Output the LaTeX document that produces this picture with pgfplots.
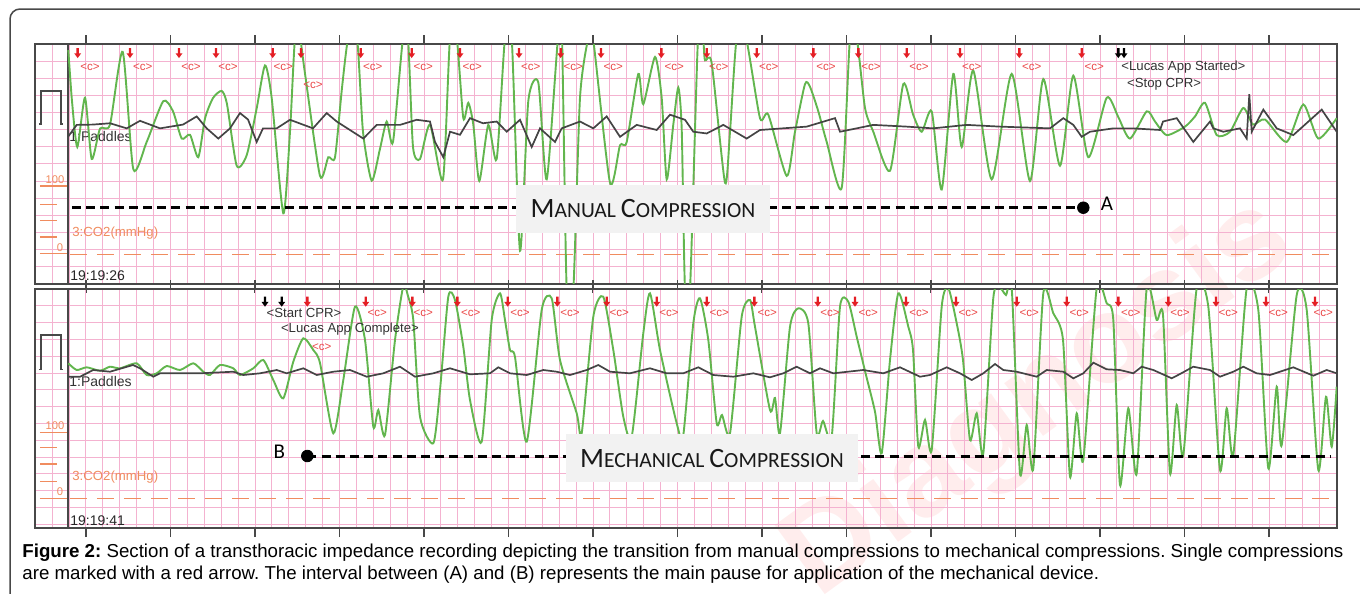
\documentclass[border=0pt]{standalone}
\usepackage{pgfplots}
\pgfplotsset{compat=1.18}
\usepackage{fontspec}
\setmainfont{Liberation Sans}
\newfontfamily\calibri{Carlito}
\usetikzlibrary{arrows.meta}
\frenchspacing

\definecolor{gridpink}{RGB}{244,178,208}
\definecolor{siggreen}{RGB}{98,182,78}
\definecolor{sigblack}{RGB}{68,68,68}
\definecolor{arrred}{RGB}{228,30,36}
\definecolor{lblred}{RGB}{234,72,72}
\definecolor{co2orange}{RGB}{240,140,95}
\definecolor{framegray}{RGB}{72,72,72}
\definecolor{boxgray}{RGB}{242,242,242}

\pgfdeclareplotmark{darrow}{%
  \pgfpathmoveto{\pgfqpoint{-0.6pt}{0pt}}%
  \pgfpathlineto{\pgfqpoint{0.6pt}{0pt}}%
  \pgfpathlineto{\pgfqpoint{0.6pt}{-2.6pt}}%
  \pgfpathlineto{\pgfqpoint{1.75pt}{-2.6pt}}%
  \pgfpathlineto{\pgfqpoint{0pt}{-5pt}}%
  \pgfpathlineto{\pgfqpoint{-1.75pt}{-2.6pt}}%
  \pgfpathlineto{\pgfqpoint{-0.6pt}{-2.6pt}}%
  \pgfpathclose
  \pgfusepathqfill}

\pgfplotsset{ecg/.style={
  scale only axis, width=651pt,
  xmin=35, xmax=1337, y dir=reverse,
  axis line style={draw=framegray, line width=0.8pt},
  xtick={86,170.5,...,1270}, xticklabels={},
  minor xtick={35.3,52.2,...,1337},
  yticklabels={},
  tick align=outside, major tick length=4.5pt, minor tick length=0pt,
  xtick style={draw=framegray, line width=0.7pt},
  ytick style={draw=none},
  minor tick style={draw=none},
  grid=both,
  major grid style={draw=gridpink, line width=0.5pt},
  minor grid style={draw=gridpink, line width=0.5pt},
  clip mode=individual,
}}
\tikzset{
  lbl/.style={text=lblred, font=\fontsize{5.8}{6}\selectfont, inner sep=0pt},
  evt/.style={text=black!80, font=\fontsize{6.6}{7}\selectfont, inner sep=0pt},
  chan/.style={font=\fontsize{7}{8}\selectfont, inner sep=0pt},
}

\begin{document}
\begin{tikzpicture}
\useasboundingbox (0,0) rectangle (680pt,-297pt);
\begin{scope}
\clip (0,0) rectangle (680pt,-297pt);
\draw[framegray, line width=0.75pt, rounded corners=5pt] (5pt,-4.5pt) rectangle (700pt,-320pt);
% watermark (faint)
\node[rotate=36, opacity=0.07, text=red, font=\bfseries\fontsize{62}{62}\selectfont] at (520pt,-200pt) {Diagnosis};
\end{scope}

%================ TOP PANEL =================
\begin{axis}[ecg, at={(17.5pt,-22pt)}, anchor=north west, height=117.5pt,
  ymin=44, ymax=279, ytick={44,60.8,...,279}]
% left strip
\draw[framegray, line width=0.8pt] (axis cs:68,44) -- (axis cs:68,279);
\draw[framegray, line width=0.7pt] (axis cs:39,122.5) -- (axis cs:41,122.5) -- (axis cs:41,90) -- (axis cs:61,90) -- (axis cs:61,122.5) -- (axis cs:63,122.5);
\draw[co2orange, line width=0.6pt] (axis cs:40,183.3) -- (axis cs:66.7,183.3);
\node[co2orange, font=\fontsize{5.6}{6}\selectfont, inner sep=0pt] at (axis cs:55,177) {100};
\draw[co2orange, line width=0.6pt] (axis cs:40,201.7) -- (axis cs:57,201.7);
\draw[co2orange, line width=0.6pt] (axis cs:40,216.7) -- (axis cs:57,216.7);
\draw[co2orange, line width=0.6pt] (axis cs:40,233.3) -- (axis cs:57,233.3);
\node[co2orange, font=\fontsize{5.6}{6}\selectfont, inner sep=0pt] at (axis cs:60,244) {0};
\draw[co2orange, line width=0.6pt] (axis cs:40,249.5) -- (axis cs:66.7,249.5);
% CO2 baseline
\addplot[co2orange, line width=0.6pt, dash pattern=on 8.5pt off 5pt] coordinates {(70,250.3) (1332,250.3)};
\node[chan, anchor=west, text=black!80] at (axis cs:69,135) {1:Paddles};
\node[chan, anchor=west, text=co2orange, font=\fontsize{6.6}{7}\selectfont] at (axis cs:72,229) {3:CO2(mmHg)};
\node[chan, anchor=west, text=black!85] at (axis cs:70,271.5) {19:19:26};
% green impedance signal
\addplot[siggreen, line width=0.95pt, smooth, tension=0.4] coordinates {
(68.3,50) (72,100) (77.3,145) (85,96.7) (91.7,156.7) (100,127) (110,123)
(122.7,51.7) (133.3,166.7) (146.7,140) (163.3,100) (173,110) (181.7,136.7)
(190,133) (198.3,155) (205,117) (213,97) (221.7,90) (227,103) (236.7,163.3)
(246.7,153) (256.7,107) (265,65) (271.7,97) (283.3,210) (290,130) (295,38)
(300,38) (305,73) (320,173.3) (328.3,155) (335,155) (342,87) (348.3,38)
(357,38) (363,130) (371.7,178) (380,146.7) (386.7,120) (393,140) (403,38)
(408,38) (413,145) (420,156.7) (430,123) (443,176.7) (450,38) (456.7,38)
(463.3,116.7) (468.3,101.7) (473.3,123) (479.3,178.3) (488.3,123.3)
(496.7,156.7) (505,38) (511.7,38) (520,246.7) (528.3,100) (538.3,81.7)
(546.7,176.7) (558,38) (562,38) (566.7,285) (573.3,285) (580,96.7)
(588.3,38) (593,38) (610,180) (620,143.3) (626.7,140) (638.3,73.3)
(643.3,103) (655,56.7) (661.7,97) (666.7,176.7) (673.3,123) (678.3,86.7)
(681.7,127) (685,285) (690,285) (698,38) (703,38) (705,60) (711.7,63)
(725,180) (730,130) (736.7,38) (746,38) (760,116.7) (768.3,113.3)
(786.7,173.3) (795,130) (805,83.3) (810,86) (818.3,110) (826.7,140)
(841.7,185) (850,38) (856.7,38) (865,106.7) (873.3,130) (890,168.3)
(903.3,83.3) (913,113) (921.7,130) (931.7,110) (941.7,186.7) (953.3,73.3)
(961.7,145) (973.3,70) (991.7,176.7) (1011.7,73.3) (1030,178.3)
(1043.3,78.3) (1060,163.3) (1073.3,75) (1088.3,155) (1106.7,96.7)
(1118,115) (1130,136.7) (1146.7,110) (1155,120) (1166.7,133.3) (1185,125)
(1195,115) (1205,101.7) (1216.7,133.3) (1230,130) (1243.3,106.7)
(1253,123) (1265,118) (1286.7,140) (1303.3,103.3) (1318.3,136.7) (1336.7,116.7)};
% black paddles signal
\addplot[sigblack, line width=0.85pt] coordinates {
(68,135) (76.7,123.3) (93,123) (110,121.7) (126.7,126.7) (140,119.3)
(160,126.7) (183,123) (196.7,115) (206.7,126.7) (218.3,136.7) (230,126.7)
(240,111.7) (248,118) (256.7,140) (263,126.7) (276.7,126.7) (290,118.3)
(313,126.7) (326.7,111.7) (336.7,120) (363.3,136.7) (376.7,123.3)
(400,123.3) (416.7,118.3) (430,120) (435,140) (443.3,155) (450,130)
(460,133) (470,116.7) (483,121.7) (496.7,120) (506.7,130) (520,118.3)
(531.7,145) (540,126.7) (555,140) (561.7,126.7) (580,120) (593.3,126.7)
(606.7,115) (620,135) (636.7,123.3) (656.7,128.3) (670,113.3) (685,118.3)
(693.3,130) (706.7,131.7) (723.3,123.3) (746.7,136.7) (760,128.3)
(806.7,125) (835,116.7) (840,130) (856.7,126.7) (873.3,123.3)
(906.7,125) (933,126.7) (966.7,123.3) (1000,125) (1050,126.7)
(1063.3,116.7) (1073.3,123.3) (1081.7,135) (1090,130) (1113.3,126.7)
(1133.3,126.7) (1160,128.3) (1163,120) (1176.7,116.7) (1193.3,140)
(1210,120) (1213.3,126.7) (1223.3,130) (1240,126.7) (1246.7,136.7)
(1249.3,93.3) (1251.7,130) (1263.3,108.3) (1276.7,126.7) (1293.3,133.3)
(1321.7,108.3) (1336.7,130)};
% compression markers
\addplot[only marks, mark=darrow, color=arrred] coordinates {
(77.7,48) (130,48) (179,48) (216,48) (272.7,48) (301,48) (360.7,48)
(411.7,48) (460,48) (519,48) (560.7,48) (601,48) (661.3,48) (706.7,48)
(756.7,48) (813.3,48) (858.3,48) (906.7,48) (960,48) (1019.3,48) (1081.7,48)};
\addplot[only marks, mark=darrow, color=black] coordinates {(1118.3,48) (1124,48)};
\pgfplotsinvokeforeach{90,142.7,191,228,283.3,372.7,423.3,472.3,530.7,573.3,613.3,674.3,718.7,768.7,826,871,919,971.7,1031.7,1094.3}{
  \node[lbl] at (axis cs:#1,66.7) {<c>};}
\node[lbl] at (axis cs:313,84) {<c>};
\node[evt, anchor=west] at (axis cs:1121,66.7) {<Lucas App Started>};
\node[evt, anchor=west] at (axis cs:1126.7,83.3) {<Stop CPR>};
% pause marker A
\addplot[black, line width=1.5pt, dash pattern=on 4.5pt off 2.6pt] coordinates {(72,204.5) (1083,204.5)};
\addplot[only marks, mark=*, mark size=2.9pt, color=black] coordinates {(1083.3,204.5)};
\node[inner sep=0pt, font=\calibri\fontsize{10.5}{11}\selectfont] at (axis cs:1107,200.5) {A};
\node[fill=boxgray, minimum width=127pt, minimum height=23.8pt, inner sep=0pt,
  font=\calibri, text=black!90] at (axis cs:643,205.5)
  {\fontsize{14}{16}\selectfont M\fontsize{10.8}{12}\selectfont ANUAL \fontsize{14}{16}\selectfont C\fontsize{10.8}{12}\selectfont OMPRESSION};
\end{axis}

%================ BOTTOM PANEL =================
\begin{axis}[ecg, at={(17.5pt,-144.5pt)}, anchor=north west, height=119.5pt,
  ymin=289, ymax=528, ytick={289,305.8,...,528}]
\draw[framegray, line width=0.8pt] (axis cs:68,289) -- (axis cs:68,528);
\draw[framegray, line width=0.7pt] (axis cs:39,369.3) -- (axis cs:41,369.3) -- (axis cs:41,335) -- (axis cs:61,335) -- (axis cs:61,369.3) -- (axis cs:63,369.3);
\draw[co2orange, line width=0.6pt] (axis cs:40,432.5) -- (axis cs:66.7,432.5);
\node[co2orange, font=\fontsize{5.6}{6}\selectfont, inner sep=0pt] at (axis cs:55,426) {100};
\draw[co2orange, line width=0.6pt] (axis cs:40,447.3) -- (axis cs:57,447.3);
\draw[co2orange, line width=0.6pt] (axis cs:40,464) -- (axis cs:57,464);
\draw[co2orange, line width=0.6pt] (axis cs:40,481.7) -- (axis cs:57,481.7);
\node[co2orange, font=\fontsize{5.6}{6}\selectfont, inner sep=0pt] at (axis cs:60,492) {0};
\draw[co2orange, line width=0.6pt] (axis cs:40,498.3) -- (axis cs:66.7,498.3);
\addplot[co2orange, line width=0.6pt, dash pattern=on 8.5pt off 5pt] coordinates {(70,498.3) (1332,498.3)};
\node[chan, anchor=west, text=black!80] at (axis cs:69,381.7) {1:Paddles};
\node[chan, anchor=west, text=co2orange, font=\fontsize{6.6}{7}\selectfont] at (axis cs:72,477) {3:CO2(mmHg)};
\node[chan, anchor=west, text=black!85] at (axis cs:70,520.7) {19:19:41};
% green impedance signal
\addplot[siggreen, line width=0.95pt, smooth, tension=0.4] coordinates {
(68.3,363.3) (76.7,370) (86.7,367.3) (100,370.7) (110,366.7) (120,368.3)
(136.7,363.3) (146.7,375) (156.7,373.3) (166.7,366) (180,370) (193.3,363.3)
(203.3,371.7) (210,375) (220,365) (233.3,368.3) (240,375) (253.3,368.3)
(263.3,360) (273.3,380) (283.3,398.3) (293.3,361.7) (303.3,338.3)
(313.3,350) (320,363) (333.3,433.3) (343.3,380) (355,306.7) (365,340)
(373.3,426.7) (378.3,410) (385,435) (395,340) (403.3,286) (408,296)
(413.3,320) (420,416.7) (433.3,443.3) (440,390) (448.3,296.7) (455,300)
(463.3,346.7) (470,400) (481.7,441.7) (491.7,320) (500,293.3) (505,320)
(510,350) (515,357) (526.7,441.7) (541.7,310) (551.7,298.3) (560,360)
(576.7,413.3) (581.7,433.3) (593.3,316.7) (603.3,296.7) (613.3,350)
(623.3,416.7) (631.7,436.7) (643.3,333.3) (650,293.3) (660,350)
(676.7,423.3) (683.3,435) (693.3,323.3) (700,298.3) (708.3,340)
(716.7,423.3) (722,415) (730,433.3) (741.7,316.7) (750,300) (755,326.7)
(770,410) (775,398) (780,433.3) (790,326.7) (798.3,308.3) (808.3,323.3)
(816.7,433.3) (823,421) (831.7,436.7) (840,306.7) (848.3,301.7)
(856.7,336.7) (866,375) (875,411.7) (881.7,453.3) (890,360) (898.3,293.3)
(908.3,326.7) (913,350) (918.3,446.7) (925,420) (931.7,450) (941.7,306.7)
(948.3,288) (956.7,323.3) (963,360) (970,440) (976.7,413.3) (983.3,453.3)
(993.3,298) (1000,288) (1006,295) (1011.7,288) (1020,473.3) (1026.7,425)
(1033.3,468.3) (1043.3,293.3) (1053.3,313.3) (1063,340) (1070,476.7)
(1076.7,413.3) (1083.3,460) (1096.7,288) (1106.7,303.3) (1113.3,320)
(1120,485) (1128.3,408.3) (1136.7,473.3) (1146.7,288) (1156.7,320)
(1163,315) (1170,473.3) (1176.7,405) (1183.3,455) (1196.7,288)
(1208.3,306.7) (1220,470) (1226.7,408.3) (1233.3,455) (1246.7,288)
(1258.3,310) (1268.3,468.3) (1276.7,386.7) (1281.7,445) (1296.7,295)
(1306.7,310) (1318.3,470) (1326,396.7) (1331.7,446.7) (1336.7,386.7)};
% black paddles signal
\addplot[sigblack, line width=0.85pt] coordinates {
(68,376.7) (80,376.7) (93.3,370) (110,371.7) (133,365) (140,368.3)
(153.3,376.7) (160,373.3) (200,373.3) (233.3,371.7) (243.3,375)
(260,373.3) (276.7,370) (286.7,373.3) (303.3,368.3) (316.7,375)
(333.3,371.7) (350,370) (366.7,376.7) (383.3,373.3) (400,366.7)
(415,376.7) (433.3,373.3) (450,368.3) (470,374.3) (490,373.3)
(498.3,367.3) (510,373.3) (526.7,375) (543.3,370) (556.7,371.7)
(570,375) (586.7,370) (598.3,365) (610,371.7) (630,373.3) (650,368.3)
(666.7,373.3) (683.3,373.3) (698.3,367.3) (713.3,375) (733.3,376.7)
(753.3,373.3) (770,377.3) (783.3,373.3) (796.7,366.7) (810,373.3)
(820,368.3) (833.3,373.3) (863.3,370) (883.3,373.3) (900,367.3)
(920,376.7) (930,375) (946.7,367.3) (960,373.3) (971.7,380) (983.3,373.3)
(995,364) (1003.3,370) (1016.7,371.7) (1036.7,376.7) (1046.7,370)
(1063.3,371.7) (1073.3,378.3) (1083.3,373.3) (1093.3,362.7)
(1106.7,369.3) (1120,370) (1133.3,373.3) (1141.7,366.7) (1153.3,370)
(1171.7,378.3) (1180,374) (1193.3,366.7) (1210,370) (1220,376.7)
(1233.3,371.7) (1243.3,366.7) (1256.7,373.3) (1270,375) (1293.3,367.3)
(1313.3,375.7) (1326.7,370) (1336.7,373.3)};
% compression markers
\addplot[only marks, mark=darrow, color=arrred] coordinates {
(307.3,296.7) (365.7,296.7) (412.3,296.7) (457.3,296.7) (507.7,296.7)
(557.3,296.7) (606.7,296.7) (656.7,296.7) (706.7,296.7) (754.3,296.7)
(817.7,296.7) (855,296.7) (906,296.7) (956,296.7) (1016.7,296.7)
(1066.7,296.7) (1118.3,296.7) (1168.3,296.7) (1216,296.7) (1266,296.7) (1315,296.7)};
\addplot[only marks, mark=darrow, color=black] coordinates {(265,296.7) (281.7,296.7)};
\pgfplotsinvokeforeach{377.3,423.3,470.7,520,570,619.3,669,719.3,767.3,830,868.3,919,968.3,1029.3,1079.3,1130.7,1180,1228.3,1278.3,1323.3}{
  \node[lbl] at (axis cs:#1,313.3) {<c>};}
\node[lbl] at (axis cs:321.7,346.7) {<c>};
\node[evt] at (axis cs:304,313.3) {<Start CPR>};
\node[evt] at (axis cs:350,329.3) {<Lucas App Complete>};
% pause marker B
\addplot[black, line width=1.5pt, dash pattern=on 4.5pt off 2.6pt] coordinates {(307.3,456) (1330,456)};
\addplot[only marks, mark=*, mark size=2.9pt, color=black] coordinates {(307.3,456)};
\node[inner sep=0pt, font=\calibri\fontsize{10.5}{11}\selectfont] at (axis cs:279.3,451.5) {B};
\node[fill=boxgray, minimum width=146pt, minimum height=23.8pt, inner sep=0pt,
  font=\calibri, text=black!90] at (axis cs:712,458)
  {\fontsize{14}{16}\selectfont M\fontsize{10.8}{12}\selectfont ECHANICAL \fontsize{14}{16}\selectfont C\fontsize{10.8}{12}\selectfont OMPRESSION};
\end{axis}

% caption
\node[anchor=base west, inner sep=0pt, font=\fontsize{9.35}{11}\selectfont] at (11pt,-278.5pt)
  {\textbf{Figure 2:} Section of a transthoracic impedance recording depicting the transition from manual compressions to mechanical compressions. Single compressions};
\node[anchor=base west, inner sep=0pt, font=\fontsize{9.35}{11}\selectfont] at (11pt,-289.5pt)
  {are marked with a red arrow. The interval between (A) and (B) represents the main pause for application of the mechanical device.};
\end{tikzpicture}
\end{document}
